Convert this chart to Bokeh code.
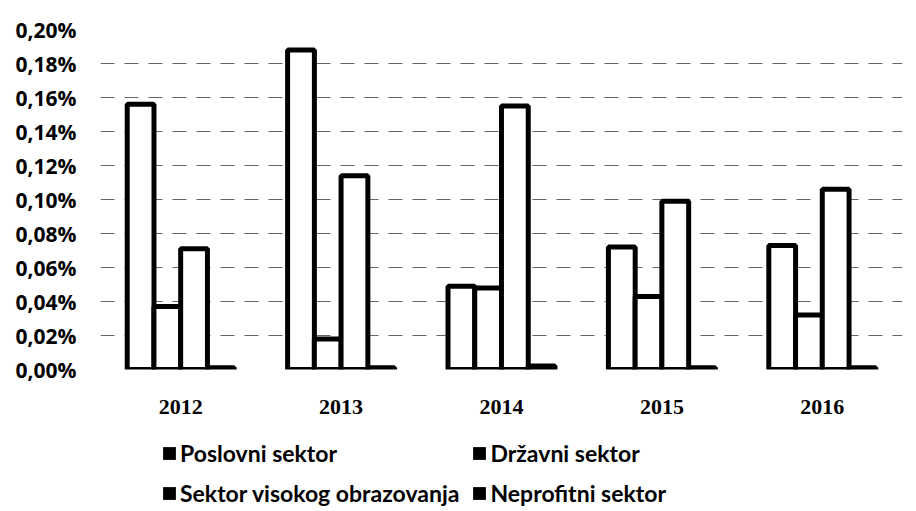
from bokeh.plotting import figure
from bokeh.models import (Range1d, FactorRange, FixedTicker, CustomJSTickFormatter,
                          Legend, LegendItem, ColumnDataSource)
from bokeh.layouts import column
from bokeh.transform import dodge
from bokeh.embed import file_html
from bokeh.resources import INLINE

years = ["2012", "2013", "2014", "2015", "2016"]
poslovni = [0.156, 0.188, 0.049, 0.072, 0.073]
drzavni = [0.037, 0.018, 0.048, 0.043, 0.032]
visoko = [0.071, 0.114, 0.155, 0.099, 0.106]
neprofitni = [0.001, 0.001, 0.002, 0.001, 0.001]
series_names = ["Poslovni sektor", "Državni sektor",
                "Sektor visokog obrazovanja", "Neprofitni sektor"]
y_ticks = [0.0, 0.02, 0.04, 0.06, 0.08, 0.10, 0.12, 0.14, 0.16, 0.18, 0.20]

src = ColumnDataSource(dict(year=years, poslovni=poslovni, drzavni=drzavni,
                            visoko=visoko, neprofitni=neprofitni))

p = figure(width=916, height=425, x_range=FactorRange(*years, range_padding=0.0),
           y_range=Range1d(0, 0.2), output_backend="svg", toolbar_location=None,
           min_border_left=100, min_border_right=14, min_border_top=29,
           min_border_bottom=56)
p.outline_line_color = None

bw = 0.167
offsets = [-0.25, -0.0833, 0.0833, 0.25]
cols = ["poslovni", "drzavni", "visoko", "neprofitni"]
for col, off in zip(cols, offsets):
    p.vbar(x=dodge("year", off, range=p.x_range), top=col, width=bw, bottom=0,
           source=src, fill_color="white", line_color="black", line_width=5)

p.yaxis.ticker = FixedTicker(ticks=y_ticks)
p.yaxis.formatter = CustomJSTickFormatter(
    code="return tick.toFixed(2).replace('.', ',') + '%';")
p.yaxis.axis_line_color = None
p.yaxis.major_tick_line_color = None
p.yaxis.minor_tick_line_color = None
p.yaxis.major_label_text_font = "Open Sans"
p.yaxis.major_label_text_font_style = "bold"
p.yaxis.major_label_text_font_size = "21px"
p.yaxis.major_label_text_color = "black"
p.yaxis.major_label_standoff = 18

p.xaxis.axis_line_color = None
p.xaxis.major_tick_line_color = None
p.xaxis.major_label_text_font = "Liberation Serif"
p.xaxis.major_label_text_font_style = "bold"
p.xaxis.major_label_text_font_size = "22px"
p.xaxis.major_label_text_color = "black"
p.xaxis.major_label_standoff = 24

p.xgrid.grid_line_color = None
p.ygrid.grid_line_color = "black"
p.ygrid.grid_line_alpha = 0.6
p.ygrid.grid_line_width = 1
p.ygrid.grid_line_dash = "14 10"

# legend in its own strip below the chart (frame aligned with the chart frame)
lf = figure(width=916, height=86, output_backend="svg", toolbar_location=None,
            x_range=Range1d(0, 1), y_range=Range1d(0, 1),
            min_border=0)
lf.axis.visible = False
lf.grid.grid_line_color = None
lf.outline_line_color = None

items = []
for name in series_names:
    # zero-size swatch renderer, only used for the legend glyph
    r = lf.quad(left=[0], right=[0], top=[0], bottom=[0], fill_color="black",
                line_color="black", line_width=0)
    items.append(LegendItem(label=name, renderers=[r]))

legend = Legend(items=items, location=(61, 4), orientation="horizontal", nrows=2,
                label_text_font="Lato", label_text_font_style="bold",
                label_text_font_size="23px", label_text_color="black",
                glyph_width=16, glyph_height=16, label_standoff=3,
                spacing=12, padding=0, margin=0, border_line_color=None,
                background_fill_alpha=0, label_height=16)
lf.add_layout(legend, "center")

layout = column(p, lf, spacing=0)
open("out.html", "w").write(file_html(layout, INLINE))
